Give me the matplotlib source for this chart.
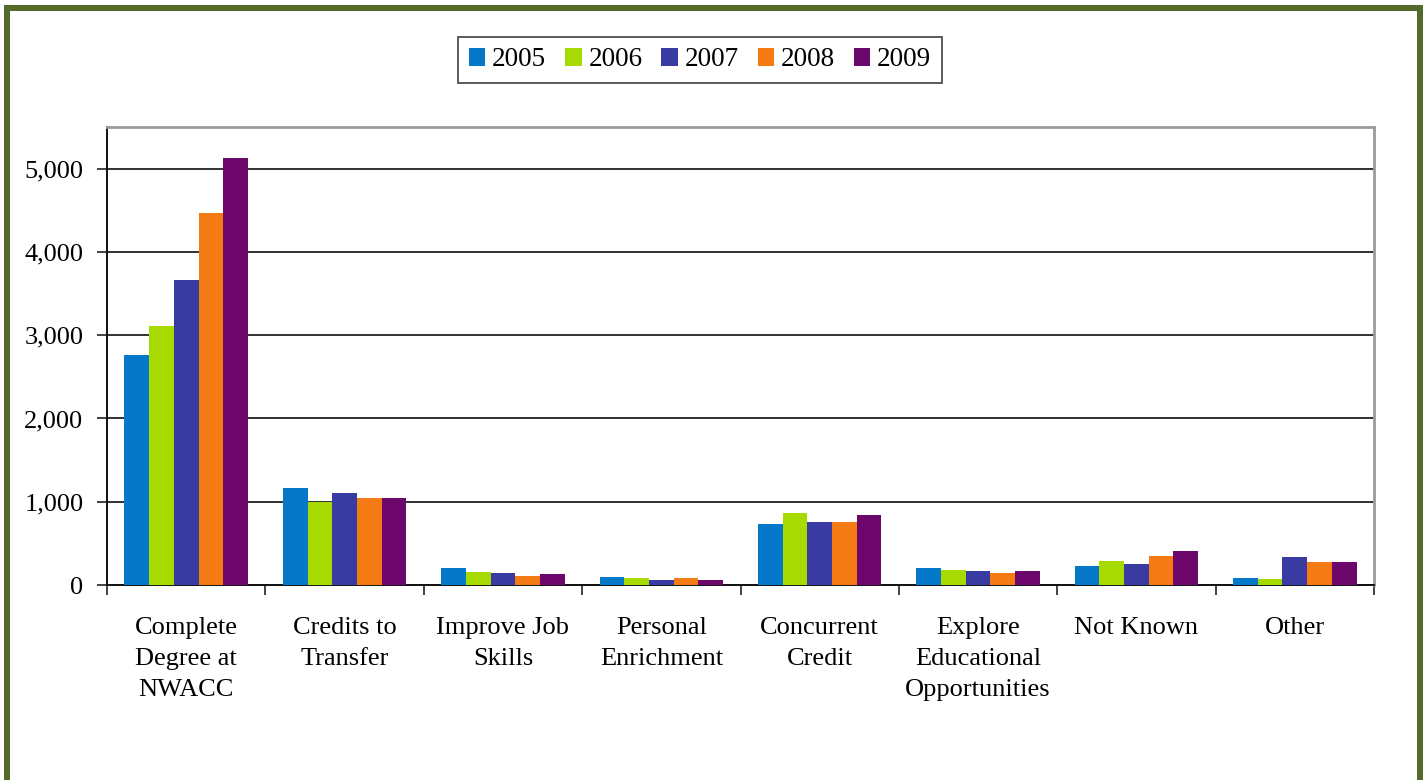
import matplotlib
matplotlib.use("Agg")
import matplotlib.pyplot as plt
from matplotlib.lines import Line2D
from matplotlib.ticker import FuncFormatter
import numpy as np

plt.rcParams['font.family'] = ['Liberation Serif', 'DejaVu Serif']

categories = [
    "Complete\nDegree at\nNWACC",
    "Credits to\nTransfer",
    "Improve Job\nSkills",
    "Personal\nEnrichment",
    "Concurrent\nCredit",
    "Explore\nEducational\nOpportunities",
    "Not Known",
    "Other",
]
years = ["2005", "2006", "2007", "2008", "2009"]

v2005 = [2760, 1170, 207, 99, 737, 207, 223, 82]
v2006 = [3107, 1002, 159, 82, 870, 175, 283, 78]
v2007 = [3660, 1110, 147, 66, 761, 163, 255, 331]
v2008 = [4462, 1046, 114, 82, 761, 142, 347, 271]
v2009 = [5124, 1046, 130, 66, 841, 163, 412, 271]
series = [v2005, v2006, v2007, v2008, v2009]

colors = ["#0678CA", "#A6DA00", "#3A3AA3", "#F47A13", "#6E076B"]

W, H = 1426, 780
fig = plt.figure(figsize=(W / 100, H / 100), dpi=100)
fig.patch.set_facecolor("white")

# olive frame around the chart (bottom edge runs off the page)
frame_col = "#546A2B"
lw_frame = 6 * 72 / 100
xl, xr, yt = 7 / W, 1419.5 / W, 1 - 8 / H
fig.add_artist(Line2D([xl, xl, xr, xr], [-0.05, yt, yt, -0.05],
                      transform=fig.transFigure, color=frame_col,
                      lw=lw_frame, solid_joinstyle="miter"))

ax = fig.add_axes([107 / W, 1 - 585 / H, (1374 - 107) / W, (585 - 127) / H])

n_cat = len(categories)
n_ser = len(series)
x = np.arange(n_cat)
bar_w = 0.156
offsets = (np.arange(n_ser) - (n_ser - 1) / 2) * bar_w
for vals, off, col, yr in zip(series, offsets, colors, years):
    ax.bar(x + off, vals, width=bar_w, color=col, label=yr,
           linewidth=0, zorder=3)

ax.set_xlim(-0.5, n_cat - 0.5)
ax.set_ylim(0, 5500)
ax.set_yticks(np.arange(0, 5001, 1000))
ax.yaxis.set_major_formatter(FuncFormatter(lambda v, p: f"{int(v):,}"))
ax.grid(axis="y", color="#222222", linewidth=1.3, zorder=1)
ax.set_axisbelow(True)

# category boundaries as ticks, labels centred under each group
ax.set_xticks(np.arange(-0.5, n_cat, 1.0))
ax.set_xticklabels([])
ax.set_xticks(x, minor=True)
ax.set_xticklabels(categories, minor=True, fontsize=19,
                   linespacing=1.53, multialignment="center")
ax.tick_params(axis="x", which="major", direction="out", length=7,
               width=1.2, color="#222222")
ax.tick_params(axis="x", which="minor", length=0, pad=23)
ax.tick_params(axis="y", direction="out", length=7, width=1.2,
               color="#222222", labelsize=19, pad=10)

for side in ("left", "bottom"):
    ax.spines[side].set_color("#111111")
    ax.spines[side].set_linewidth(1.4)
for side in ("top", "right"):
    ax.spines[side].set_color("#9A9A9A")
    ax.spines[side].set_linewidth(2.0)

leg = fig.legend(loc="center", bbox_to_anchor=(700 / W, 1 - 60 / H),
                 ncol=5, frameon=True, fancybox=False, fontsize=19.5,
                 handlelength=0.6, handleheight=0.6, handletextpad=0.25,
                 columnspacing=0.7, borderpad=0.4)
leg.get_frame().set_edgecolor("#111111")
leg.get_frame().set_linewidth(1.2)

fig.savefig("out.png", dpi=100, facecolor="white")
